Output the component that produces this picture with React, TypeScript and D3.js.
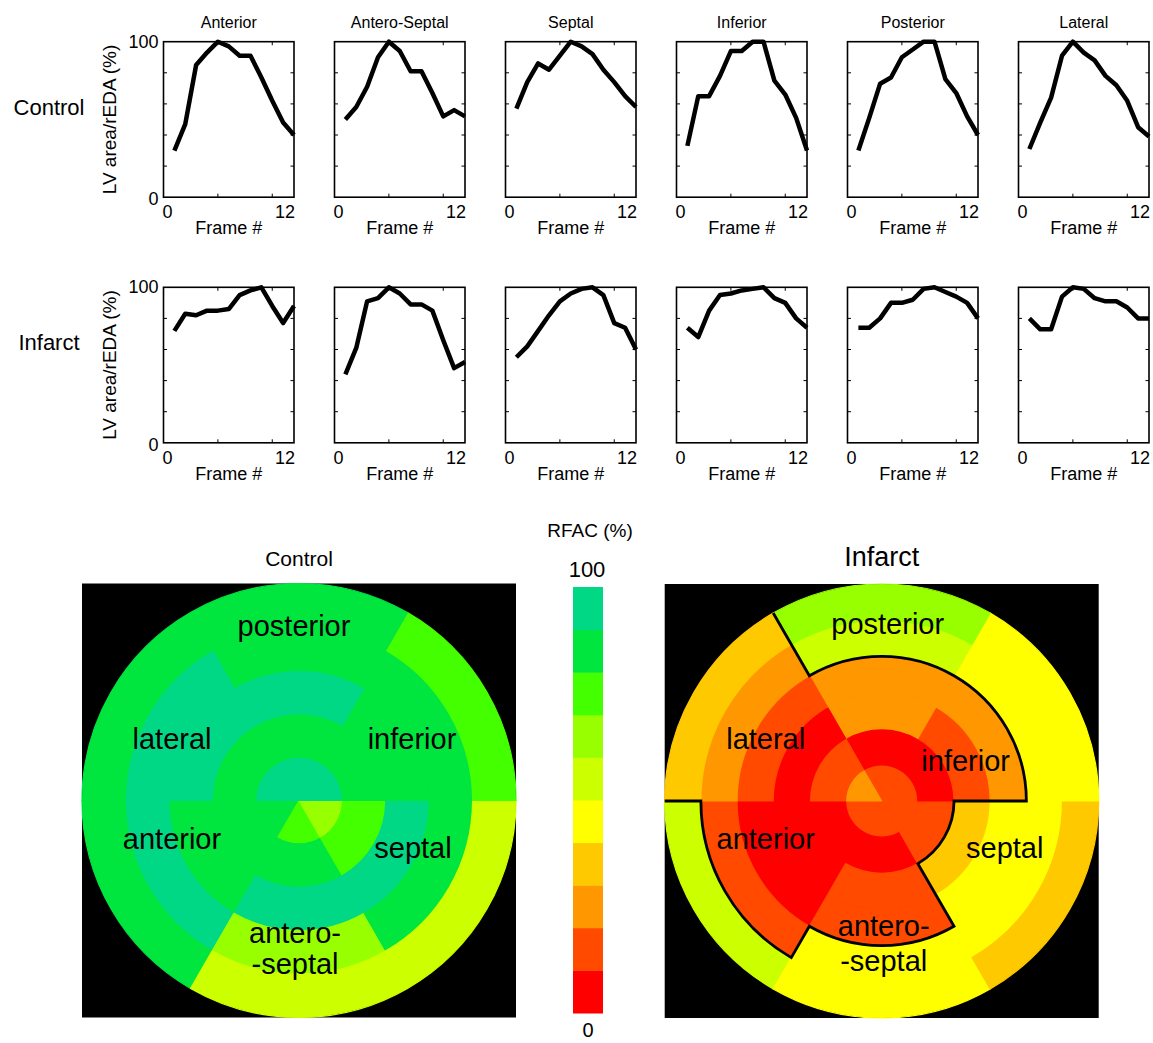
import React from 'react';
import * as d3 from 'd3';

// regional LV area curves (% of regional end-diastolic area), frames 1..12
const segments = ['Anterior', 'Antero-Septal', 'Septal', 'Inferior', 'Posterior', 'Lateral'];
const frames = [1, 2, 3, 4, 5, 6, 7, 8, 9, 10, 11, 12];

const ctrlAnterior = [30, 47, 85, 93, 100, 97, 91, 91, 77, 62, 48, 40];
const ctrlAnteroSeptal = [50, 58, 71, 90, 100, 94, 81, 81, 67, 52, 56, 52];
const ctrlSeptal = [57, 74, 86, 82, 91, 100, 97, 92, 82, 74, 65, 58];
const ctrlInferior = [33, 65, 65, 78, 94, 94, 100, 100, 75, 66, 51, 30];
const ctrlPosterior = [30, 51, 73, 77, 90, 95, 100, 100, 76, 67, 52, 40];
const ctrlLateral = [31, 48, 64, 91, 100, 93, 88, 78, 72, 62, 45, 39];

const infAnterior = [72, 83, 82, 85, 85, 86, 95, 98, 100, 88, 77, 88];
const infAnteroSeptal = [44, 61, 91, 93, 100, 96, 89, 89, 85, 66, 48, 52];
const infSeptal = [55, 62, 72, 82, 91, 96, 99, 100, 95, 77, 74, 60];
const infInferior = [74, 68, 85, 95, 96, 98, 99, 100, 93, 90, 80, 74];
const infPosterior = [74, 74, 80, 90, 90, 92, 99, 100, 97, 94, 90, 80];
const infLateral = [80, 73, 73, 94, 100, 99, 93, 91, 91, 87, 80, 80];

const rowNames = ['Control', 'Infarct'];
const rowCurves = [
  [ctrlAnterior, ctrlAnteroSeptal, ctrlSeptal, ctrlInferior, ctrlPosterior, ctrlLateral],
  [infAnterior, infAnteroSeptal, infSeptal, infInferior, infPosterior, infLateral],
];

// RFAC (%) per ring (centre -> outside), sectors in the order of `segments`
const controlRFAC = [
  [85, 75, 65, 95, 95, 95],
  [85, 85, 75, 85, 85, 85],
  [85, 95, 95, 85, 95, 95],
  [95, 65, 85, 85, 85, 95],
  [85, 55, 55, 75, 85, 85],
];
const infarctRFAC = [
  [15, 15, 15, 15, 15, 25],
  [5, 5, 15, 5, 5, 15],
  [5, 15, 35, 15, 25, 5],
  [5, 15, 45, 25, 25, 15],
  [15, 45, 45, 45, 55, 25],
  [55, 45, 35, 45, 65, 35],
];
// number of rings inside the outlined infarct zone, per sector
const infarctDepth = [5, 4, 2, 4, 4, 6];

const bullseyeLabels = [['anterior'], ['antero-', '-septal'], ['septal'], ['inferior'], ['posterior'], ['lateral']];

const rfacTicks = ['0', '100'];
const rfacColors = ['#ff0000', '#ff4a00', '#ff9800', '#ffc900', '#ffff00', '#ccff00', '#98ff00', '#44ff00', '#00e63f', '#00d886'];

const FONT = '"Liberation Sans", Arial, Helvetica, sans-serif';
const W = 1153;
const H = 1043;

const color = d3.scaleQuantize<string>().domain([0, 100]).range(rfacColors);

// sector i covers math angles 180+60i .. 240+60i (degrees, anticlockwise from +x)
const sectorStart = (i: number) => ((180 + 60 * i) % 360) * Math.PI / 180;
const sectorEnd = (i: number) => sectorStart(i) + Math.PI / 3;

function Panel({ x0, y0, curve, title, first }: any) {
  const w = 130.5;
  const h = 155.5;
  const x = d3.scaleLinear().domain([0, 12]).range([x0, x0 + w]);
  const y = d3.scaleLinear().domain([0, 100]).range([y0 + h, y0]);
  const line = d3.line<number>().x((_, i) => x(frames[i])).y(d => y(d));
  const tl = 3.5;
  return (
    <g>
      {title && (
        <text x={x0 + w / 2} y={y0 - 14} textAnchor="middle" fontSize={16}>{title}</text>
      )}
      <path d={line(curve) || ''} fill="none" stroke="#000" strokeWidth={4.5} strokeLinejoin="round" />
      {[5, 10].map(t => (
        <g key={'x' + t}>
          <line x1={x(t)} x2={x(t)} y1={y0 + h} y2={y0 + h - tl} stroke="#000" strokeWidth={1} />
          <line x1={x(t)} x2={x(t)} y1={y0} y2={y0 + tl} stroke="#000" strokeWidth={1} />
        </g>
      ))}
      {[20, 40, 60, 80].map(t => (
        <g key={'y' + t}>
          <line x1={x0} x2={x0 + tl} y1={y(t)} y2={y(t)} stroke="#000" strokeWidth={1} />
          <line x1={x0 + w} x2={x0 + w - tl} y1={y(t)} y2={y(t)} stroke="#000" strokeWidth={1} />
        </g>
      ))}
      <rect x={x0} y={y0} width={w} height={h} fill="none" stroke="#000" strokeWidth={1.6} />
      <text x={x(0) - 1} y={y0 + h + 21} fontSize={18}>0</text>
      <text x={x(12) + 1} y={y0 + h + 21} fontSize={18} textAnchor="end">12</text>
      <text x={x0 + w / 2} y={y0 + h + 37} fontSize={18} textAnchor="middle">Frame #</text>
      {first && (
        <g>
          <text x={x0 - 5} y={y(100) + 6} fontSize={18} textAnchor="end">100</text>
          <text x={x0 - 5} y={y(0) + 8} fontSize={18} textAnchor="end">0</text>
          <text transform={`translate(${x0 - 48},${y0 + h / 2}) rotate(-90)`} fontSize={19} textAnchor="middle">LV area/rEDA (%)</text>
        </g>
      )}
    </g>
  );
}

function Bullseye({ cx, cy, R, values, depth, labelPos, title, titleSize }: any) {
  const n = values.length;
  const ring = d3.scaleLinear().domain([0, n]).range([0, R]);
  const arc = d3.arc<any>();
  const cells: any[] = [];
  values.forEach((row: number[], r: number) => {
    row.forEach((v, s) => {
      cells.push({
        key: `${r}-${s}`,
        d: arc({
          innerRadius: ring(r),
          outerRadius: ring(r + 1),
          startAngle: Math.PI / 2 - sectorEnd(s),
          endAngle: Math.PI / 2 - sectorStart(s),
        }),
        fill: color(v),
      });
    });
  });

  let outline = '';
  if (depth) {
    const p = d3.path();
    const pt = (rr: number, a: number): [number, number] => [cx + rr * Math.cos(a), cy - rr * Math.sin(a)];
    const start = pt(ring(depth[depth.length - 1]), sectorStart(0));
    p.moveTo(start[0], start[1]);
    depth.forEach((d: number, i: number) => {
      const rr = ring(d);
      const a = pt(rr, sectorStart(i));
      p.lineTo(a[0], a[1]);
      if (d < n) {
        p.arc(cx, cy, rr, -sectorStart(i), -sectorEnd(i), true);
      } else {
        const b = pt(rr, sectorEnd(i));
        p.moveTo(b[0], b[1]);
      }
    });
    outline = p.toString();
  }

  return (
    <g>
      <rect x={cx - R} y={cy - R} width={2 * R} height={2 * R} fill="#000" />
      <g transform={`translate(${cx},${cy})`}>
        {cells.map(c => (
          <path key={c.key} d={c.d} fill={c.fill} stroke={c.fill} strokeWidth={1.2} strokeLinejoin="round" />
        ))}
      </g>
      {outline && <path d={outline} fill="none" stroke="#000" strokeWidth={2.8} strokeLinejoin="miter" />}
      {bullseyeLabels.map((lines, i) =>
        lines.map((t, j) => (
          <text key={`${i}-${j}`} x={cx + labelPos[i][0]} y={cy + labelPos[i][1] + j * labelPos[i][2]}
            fontSize={29} textAnchor="middle">{t}</text>
        ))
      )}
      <text x={cx} y={cy - R - 18} fontSize={titleSize} textAnchor="middle">{title}</text>
    </g>
  );
}

// label offsets from the bullseye centre: dx, baseline dy, line gap
const controlLabelPos = [[-127, 48, 0], [-4, 142, 31], [114, 57, 0], [113, -52, 0], [-5, -165, 0], [-127, -52, 0]];
const infarctLabelPos = [[-116, 48, 0], [2, 135, 35], [123, 57, 0], [84, -30, 0], [6, -167, 0], [-116, -52, 0]];

function ColorBar({ x0, top, bottom }: any) {
  const y = d3.scaleLinear().domain([0, 100]).range([bottom, top]);
  const step = 100 / rfacColors.length;
  return (
    <g>
      {rfacColors.map((c, i) => (
        <rect key={c} x={x0} width={30} y={y((i + 1) * step)} height={y(i * step) - y((i + 1) * step) + 0.5} fill={c} />
      ))}
      <text x={x0 + 17} y={537} fontSize={19} textAnchor="middle">RFAC (%)</text>
      <text x={x0 + 14} y={y(100) - 10} fontSize={22} textAnchor="middle">{rfacTicks[1]}</text>
      <text x={x0 + 15} y={y(0) + 24} fontSize={20} textAnchor="middle">{rfacTicks[0]}</text>
    </g>
  );
}

export default function App() {
  const rowTop = [41.7, 287.3];
  const rowLabelY = [115, 350];
  return (
    <svg width={W} height={H} style={{ position: 'absolute', left: 0, top: 0, background: '#fff' }} fontFamily={FONT}>
      <rect width={W} height={H} fill="#fff" />
      {rowCurves.map((curves, r) => (
        <g key={r}>
          <text x={49} y={rowLabelY[r]} fontSize={22} textAnchor="middle">{rowNames[r]}</text>
          {curves.map((c, i) => (
            <Panel key={i} x0={163.5 + i * 171} y0={rowTop[r]} curve={c}
              title={r === 0 ? segments[i] : null} first={i === 0} />
          ))}
        </g>
      ))}
      <Bullseye cx={299} cy={800.5} R={217} values={controlRFAC} labelPos={controlLabelPos}
        title="Control" titleSize={21} />
      <Bullseye cx={881.7} cy={801} R={217} values={infarctRFAC} depth={infarctDepth}
        labelPos={infarctLabelPos} title="Infarct" titleSize={27} />
      <ColorBar x0={573} top={587} bottom={1013} />
    </svg>
  );
}
